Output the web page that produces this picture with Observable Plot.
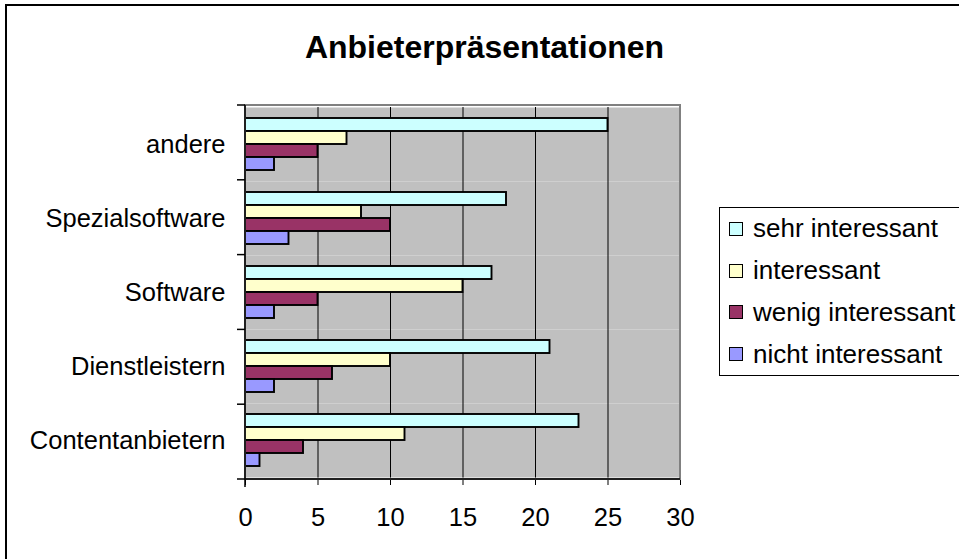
<!DOCTYPE html>
<html>
<head>
<meta charset="utf-8">
<script src="https://cdn.jsdelivr.net/npm/d3@7"></script>
<script src="https://cdn.jsdelivr.net/npm/@observablehq/plot@0.6"></script>
<style>
  html, body { margin: 0; padding: 0; background: #fff; }
  #wrap { position: relative; width: 959px; height: 559px; overflow: hidden; background: #fff;
          font-family: "Liberation Sans", Arial, sans-serif; color: #000; }
  #frame { position: absolute; left: 5px; top: 4px; width: 1000px; height: 1000px; border: 2px solid #000; box-sizing: border-box; }
  #title { position: absolute; left: 0; width: 969px; top: 27px; line-height: 40px; text-align: center;
           font-weight: bold; font-size: 32px; }
  #chart { position: absolute; left: 0; top: 0; }
  #chart svg text { font-family: "Liberation Sans", Arial, sans-serif; font-size: 25.5px; fill: #000; }
  #legend { position: absolute; left: 719px; top: 207px; width: 260px; height: 169px; box-sizing: border-box;
            border: 1px solid #000; background: #fff; }
  .row { display: flex; align-items: center; height: 41.75px; padding-left: 9px; font-size: 26px; white-space: nowrap; }
  .sw { width: 14px; height: 14px; box-sizing: border-box; border: 1.5px solid #000; margin-right: 10px; flex: none; }
</style>
</head>
<body>
<div id="wrap">
  <div id="frame"></div>
  <div id="title"></div>
  <div id="chart"></div>
  <div id="legend"></div>
</div>
<script>
// ---- data ----
const titleText = "Anbieterpräsentationen";
const categories = ["andere", "Spezialsoftware", "Software", "Dienstleistern", "Contentanbietern"];
const series = ["sehr interessant", "interessant", "wenig interessant", "nicht interessant"];
const colors = ["#CCFFFF", "#FFFFCC", "#993366", "#9999FF"];
const sehrInteressant  = [25, 18, 17, 21, 23];
const interessant      = [7, 8, 15, 10, 11];
const wenigInteressant = [5, 10, 5, 6, 4];
const nichtInteressant = [2, 3, 2, 2, 1];
const xTicks = [0, 5, 10, 15, 20, 25, 30];
const gridTicks = [5, 10, 15, 20, 25];

const seriesValues = [sehrInteressant, interessant, wenigInteressant, nichtInteressant];
const data = [];
categories.forEach((c, i) => {
  series.forEach((s, j) => data.push({category: c, series: s, value: seriesValues[j][i]}));
});

document.getElementById("title").textContent = titleText;

const chart = Plot.plot({
  width: 959,
  height: 559,
  marginLeft: 245,
  marginRight: 279,
  marginTop: 105,
  marginBottom: 80,
  style: {background: "transparent", overflow: "visible"},
  facet: {data: data, y: "category"},
  fy: {domain: categories, padding: 0, label: null, axis: "left", tickSize: 0, tickPadding: 20},
  y: {domain: series, paddingInner: 0, paddingOuter: 0.79, axis: null},
  x: {domain: [0, 30], ticks: xTicks, tickFormat: d => String(d), tickSize: 8, tickPadding: 22, label: null},
  color: {domain: series, range: colors},
  marks: [
    Plot.frame({fill: "#C0C0C0", stroke: "none"}),
    Plot.ruleX(gridTicks, {stroke: "#000", strokeWidth: 1}),
    Plot.barX(data, {x: "value", y: "series", fill: "series", stroke: "#000", strokeWidth: 1.9})
  ]
});
document.getElementById("chart").appendChild(chart);

// axis lines, plot-area border and category boundary ticks, from the plot's scales
const svg = d3.select(chart);
const xs = chart.scale("x"), fys = chart.scale("fy");
const [x0, x1] = xs.range;
const [y0, y1] = fys.range;
const step = (y1 - y0) / categories.length;
const g = svg.append("g");
g.append("rect").attr("x", x0).attr("y", y0).attr("width", x1 - x0).attr("height", y1 - y0)
  .attr("fill", "none").attr("stroke", "#808080").attr("stroke-width", 2);
g.append("line").attr("x1", x0).attr("x2", x0).attr("y1", y0).attr("y2", y1 + 8)
  .attr("stroke", "#000").attr("stroke-width", 1.5);
g.append("line").attr("x1", x0).attr("x2", x1).attr("y1", y1).attr("y2", y1)
  .attr("stroke", "#000").attr("stroke-width", 1.5);
d3.range(categories.length + 1).forEach(i => {
  const yy = y0 + i * step;
  g.append("line").attr("x1", x0 - 8).attr("x2", x0).attr("y1", yy).attr("y2", yy)
    .attr("stroke", "#000").attr("stroke-width", 1.5);
});

// legend
const legend = d3.select("#legend");
series.forEach((s, i) => {
  const row = legend.append("div").attr("class", "row");
  row.append("div").attr("class", "sw").style("background", colors[i]);
  row.append("span").text(s);
});
</script>
</body>
</html>
